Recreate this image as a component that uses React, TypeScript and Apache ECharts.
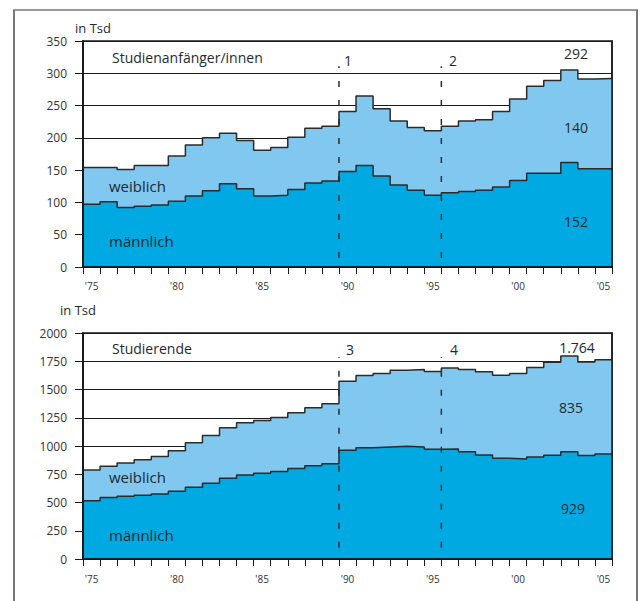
import React, { useEffect, useRef } from "react";
import * as echarts from "echarts";

const years = [
  1975, 1976, 1977, 1978, 1979, 1980, 1981, 1982, 1983, 1984, 1985, 1986, 1987, 1988, 1989,
  1990, 1991, 1992, 1993, 1994, 1995, 1996, 1997, 1998, 1999, 2000, 2001, 2002, 2003, 2004, 2005,
];

// Studienanfänger/innen (in Tsd)
const anfaengerMaennlich = [
  97, 101, 92, 94, 96, 102, 110, 118, 129, 121, 110, 111, 120, 130, 133,
  148, 157, 141, 127, 119, 111, 115, 117, 119, 124, 134, 145, 145, 162, 152, 152,
];
const anfaengerWeiblich = [
  57, 53, 59, 63, 61, 70, 79, 82, 78, 75, 71, 74, 81, 85, 85,
  93, 108, 104, 99, 97, 100, 103, 109, 109, 117, 126, 135, 144, 143, 139, 140,
];

// Studierende (in Tsd)
const studierendeMaennlich = [
  515, 544, 556, 565, 576, 600, 635, 671, 715, 744, 759, 774, 800, 826, 844,
  962, 985, 991, 997, 991, 971, 974, 950, 921, 891, 885, 903, 918, 950, 915, 929,
];
const studierendeWeiblich = [
  273, 277, 294, 314, 330, 359, 394, 423, 447, 462, 467, 479, 494, 512, 529,
  612, 639, 650, 674, 685, 688, 717, 726, 735, 735, 756, 791, 823, 847, 829, 835,
];

const anfaengerAxis = { min: 0, max: 350, interval: 50 };
const studierendeAxis = { min: 0, max: 2000, interval: 250 };

const anfaengerMarkers = [
  { label: "1", year: 1990 },
  { label: "2", year: 1996 },
];
const studierendeMarkers = [
  { label: "3", year: 1990 },
  { label: "4", year: 1996 },
];

const DARK = "#00a9e2";
const LIGHT = "#80c8ef";
const LINE = "#2b2b2b";
const AXIS = "#1a1a1a";
const TEXT = "#1e2a33";
const FONT = "'Open Sans', sans-serif";

function stepData(values: number[]) {
  const pts: number[][] = values.map((v, i) => [i, v]);
  pts.push([values.length, values[values.length - 1]]);
  return pts;
}

function fmtDe(n: number) {
  return n >= 1000 ? String(n).replace(/\B(?=(\d{3})+(?!\d))/g, ".") : String(n);
}

export default function App() {
  const ref = useRef<HTMLDivElement>(null);

  useEffect(() => {
    if (!ref.current) return;
    const chart = echarts.init(ref.current, undefined, { renderer: "svg" });

    const topTotal = anfaengerMaennlich.map((m, i) => m + anfaengerWeiblich[i]);
    const botTotal = studierendeMaennlich.map((m, i) => m + studierendeWeiblich[i]);
    const last = years.length - 1;

    const grids = [
      { left: 83, top: 41, width: 529, height: 226 },
      { left: 83, top: 333, width: 529, height: 226 },
    ];

    const catAxis = (gridIndex: number, margin: number) => ({
      type: "category",
      gridIndex,
      data: years,
      boundaryGap: true,
      z: 5,
      axisLine: { show: true, lineStyle: { color: AXIS, width: 2 } },
      axisTick: { show: true, interval: 0, length: 7, lineStyle: { color: AXIS, width: 1 } },
      axisLabel: {
        interval: (index: number) => years[index] % 5 === 0,
        formatter: (v: string) => "'" + String(v).slice(2),
        fontSize: 10,
        color: "#333",
        fontFamily: FONT,
        margin,
      },
      splitLine: { show: false },
    });
    const valX = (gridIndex: number) => ({
      type: "value",
      gridIndex,
      min: 0,
      max: years.length,
      show: false,
    });
    // main y axis: labels, ticks and grid lines, beneath the areas
    const valY = (gridIndex: number, ax: { min: number; max: number; interval: number }) => ({
      type: "value",
      gridIndex,
      min: ax.min,
      max: ax.max,
      interval: ax.interval,
      z: 0,
      axisLine: { show: false },
      axisTick: { show: true, length: 8, lineStyle: { color: AXIS, width: 1 } },
      axisLabel: {
        fontSize: 12,
        color: "#333",
        fontFamily: FONT,
        margin: 16,
        formatter: (v: number) => String(v),
      },
      splitLine: { show: true, lineStyle: { color: AXIS, width: 1 } },
    });
    // overlay axis lines (left & right borders), above the areas
    const borderY = (
      gridIndex: number,
      ax: { min: number; max: number; interval: number },
      position: string,
      width: number
    ) => ({
      type: "value",
      gridIndex,
      position,
      min: ax.min,
      max: ax.max,
      interval: ax.interval,
      z: 5,
      axisLine: { show: true, onZero: false, lineStyle: { color: AXIS, width } },
      axisTick: { show: false },
      axisLabel: { show: false },
      splitLine: { show: false },
    });

    const areaSeries = (xi: number, yi: number, values: number[], color: string, z: number) => ({
      type: "line",
      xAxisIndex: xi,
      yAxisIndex: yi,
      step: "end",
      data: stepData(values),
      symbol: "none",
      z,
      lineStyle: { color: LINE, width: 1.5 },
      areaStyle: { color, opacity: 1 },
    });

    const markerSeries = (xi: number, yi: number, year: number, y0: number, y1: number) => ({
      type: "line",
      xAxisIndex: xi,
      yAxisIndex: yi,
      data: [
        [years.indexOf(year), y0],
        [years.indexOf(year), y1],
      ],
      symbol: "none",
      z: 6,
      lineStyle: { color: LINE, width: 1.5, type: [6, 13] },
    });

    const txt = (text: string, x: number, y: number, size: number, align = "left") => ({
      type: "text",
      x,
      y,
      z: 100,
      style: {
        text,
        fill: TEXT,
        font: `${size}px ${FONT}`,
        textAlign: align,
        textVerticalAlign: "middle",
      },
    });

    chart.setOption({
      animation: false,
      backgroundColor: "#fff",
      grid: grids.map((g) => ({
        ...g,
        show: true,
        borderColor: AXIS,
        borderWidth: 1.5,
        backgroundColor: "transparent",
      })),
      xAxis: [catAxis(0, 14), valX(0), catAxis(1, 15), valX(1)],
      yAxis: [
        valY(0, anfaengerAxis),
        valY(1, studierendeAxis),
        borderY(0, anfaengerAxis, "left", 2),
        borderY(0, anfaengerAxis, "right", 1.5),
        borderY(1, studierendeAxis, "left", 2),
        borderY(1, studierendeAxis, "right", 1.5),
      ],
      series: [
        areaSeries(1, 0, topTotal, LIGHT, 2),
        areaSeries(1, 0, anfaengerMaennlich, DARK, 3),
        ...anfaengerMarkers.map((m) => markerSeries(1, 0, m.year, 14, 311)),
        areaSeries(3, 1, botTotal, LIGHT, 2),
        areaSeries(3, 1, studierendeMaennlich, DARK, 3),
        ...studierendeMarkers.map((m) => markerSeries(3, 1, m.year, 100, 1788)),
      ],
      graphic: [
        {
          type: "line",
          z: 100,
          shape: { x1: 13, y1: 10, x2: 638, y2: 10 },
          style: { stroke: "#333", lineWidth: 1 },
        },
        {
          type: "line",
          z: 100,
          shape: { x1: 14, y1: 10, x2: 14, y2: 601 },
          style: { stroke: "#777", lineWidth: 2 },
        },
        {
          type: "line",
          z: 100,
          shape: { x1: 637, y1: 10, x2: 637, y2: 601 },
          style: { stroke: "#777", lineWidth: 2 },
        },
        txt("in Tsd", 75, 28, 13),
        txt("Studienanfänger/innen", 112, 57, 14),
        txt(anfaengerMarkers[0].label, 344, 60, 14),
        txt(anfaengerMarkers[1].label, 449, 60, 14),
        txt(fmtDe(topTotal[last]), 576, 53, 14, "center"),
        txt(fmtDe(anfaengerWeiblich[last]), 576, 127, 14, "center"),
        txt(fmtDe(anfaengerMaennlich[last]), 576, 221, 14, "center"),
        txt("weiblich", 109, 186, 15),
        txt("männlich", 109, 241, 15),
        txt("in Tsd", 60, 310, 13),
        txt("Studierende", 112, 348, 14),
        txt(studierendeMarkers[0].label, 346, 349, 14),
        txt(studierendeMarkers[1].label, 450, 349, 14),
        txt(fmtDe(botTotal[last]), 577, 347, 14, "center"),
        txt(fmtDe(studierendeWeiblich[last]), 571, 407, 14, "center"),
        txt(fmtDe(studierendeMaennlich[last]), 573, 508, 14, "center"),
        txt("weiblich", 109, 477, 15),
        txt("männlich", 109, 535, 15),
      ],
    });

    return () => chart.dispose();
  }, []);

  return (
    <div
      ref={ref}
      style={{ position: "absolute", left: 0, top: 0, width: 641, height: 601 }}
    />
  );
}
